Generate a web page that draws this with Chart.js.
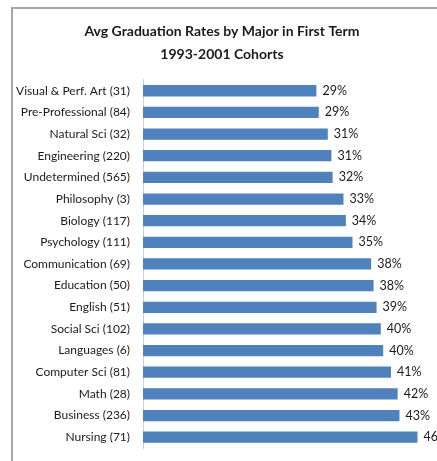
<!DOCTYPE html>
<html>
<head>
<meta charset="utf-8">
<script src="https://cdn.jsdelivr.net/npm/chart.js@4"></script>
<style>
  html, body { margin: 0; padding: 0; background: #fff; overflow: hidden; }
  #wrap { position: relative; width: 437px; height: 461px; overflow: hidden; }
  #frame { position: absolute; left: 11px; top: 7px; width: 500px; height: 500px;
           border-left: 2px solid #a6a6a6; border-top: 2px solid #a6a6a6; }
  canvas { position: absolute; left: 0; top: 0; }
</style>
</head>
<body>
<div id="wrap">
  <div id="frame"></div>
  <canvas id="chart" width="460" height="461"></canvas>
</div>
<script>
// Graduation rate (%) by first-term major, cohort size in brackets
const MAJORS = [
  'Visual & Perf. Art (31)', 'Pre-Professional (84)', 'Natural Sci (32)',
  'Engineering (220)', 'Undetermined (565)', 'Philosophy (3)', 'Biology (117)',
  'Psychology (111)', 'Communication (69)', 'Education (50)', 'English (51)',
  'Social Sci (102)', 'Languages (6)', 'Computer Sci (81)', 'Math (28)',
  'Business (236)', 'Nursing (71)'
];
const GRAD_RATES = [
  28.8, 29.2, 30.7, 31.3, 31.5, 33.3, 33.7, 34.8, 37.9,
  38.3, 38.8, 39.5, 39.9, 41.2, 42.3, 42.6, 45.6
];
const TITLE_LINES = ['Avg Graduation Rates by Major in First Term', '1993-2001 Cohorts'];

const FONT = "Lato, 'Open Sans', sans-serif";

// little stand-in for chartjs-plugin-datalabels
const barLabels = {
  id: 'barLabels',
  afterDatasetsDraw(chart) {
    const ctx = chart.ctx;
    const meta = chart.getDatasetMeta(0);
    ctx.save();
    ctx.font = `12.5px ${FONT}`;
    ctx.fillStyle = '#1a1a1a';
    ctx.textAlign = 'left';
    ctx.textBaseline = 'middle';
    meta.data.forEach((bar, i) => {
      ctx.fillText(Math.round(GRAD_RATES[i]) + '%', bar.x + 6, bar.y);
    });
    ctx.restore();
  }
};

new Chart(document.getElementById('chart'), {
  type: 'bar',
  data: {
    labels: MAJORS,
    datasets: [{
      data: GRAD_RATES,
      backgroundColor: '#4f81bd',
      borderWidth: 0,
      barPercentage: 0.52,
      categoryPercentage: 1,
    }],
  },
  options: {
    indexAxis: 'y',
    responsive: false,
    animation: false,
    layout: { padding: { top: 0, right: 16, bottom: 13, left: 0 } },
    plugins: {
      legend: { display: false },
      tooltip: { enabled: false },
      title: {
        display: true,
        text: TITLE_LINES,
        color: '#1a1a1a',
        font: { family: FONT, size: 14, weight: 'bold', lineHeight: 1.64 },
        padding: { top: 20, bottom: 14 },
      },
    },
    scales: {
      x: { display: false, min: 0, max: 50 },
      y: {
        afterFit: s => { s.width = 143; },
        // invisible tick marks give the gap between labels and the axis line
        grid: { display: true, drawOnChartArea: false, drawTicks: true, tickLength: 13, tickColor: 'rgba(0,0,0,0)' },
        border: { display: true, color: '#d0d0d0', width: 1 },
        ticks: { color: '#1a1a1a', padding: 0, font: { family: FONT, size: 12 } },
      },
    },
  },
  plugins: [barLabels],
});
</script>
</body>
</html>
